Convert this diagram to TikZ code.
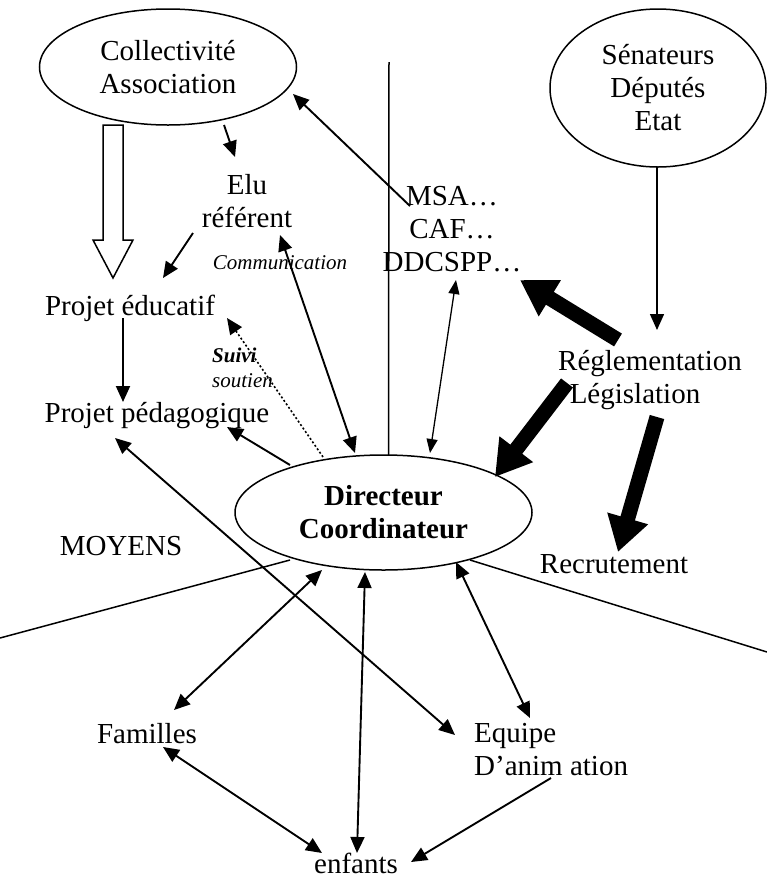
\documentclass[tikz,border=0pt]{standalone}
\usepackage{fontspec}
\setmainfont{Liberation Serif}
\usetikzlibrary{arrows.meta,calc,shapes.geometric}
\begin{document}
\begin{tikzpicture}[x=1pt,y=-1pt,
  txt/.style={inner sep=0pt, font=\fontsize{29}{33}\selectfont},
  ell/.style={draw, ellipse, line width=1.5pt, inner sep=0pt, align=center, font=\fontsize{29}{33}\selectfont},
  smalltxt/.style={inner sep=0pt, font=\fontsize{21}{25}\selectfont\itshape},
  tipA/.tip={Triangle[length=16pt,width=14pt]},
  tipB/.tip={Triangle[length=14pt,width=11pt]},
  conn/.style={line width=1.9pt, -tipA},
  biconn/.style={line width=1.9pt, tipA-tipA},
  thinbi/.style={line width=1.3pt, tipB-tipB},
  bigarrow/.style={line width=15pt, -{Triangle[length=35pt,width=40pt]}},
  sepline/.style={line width=1.5pt},
  dotconn/.style={line width=1.6pt, dash pattern=on 2pt off 2.2pt, -tipA},
]
\useasboundingbox (0,0) rectangle (767,879);

% ellipses
\node[ell, minimum width=257pt, minimum height=116pt] (coll) at (168,67) {Collectivité\\Association};
\node[ell, minimum width=216pt, minimum height=158pt] (sen) at (658,88) {Sénateurs\\Députés\\Etat};
\node[ell, minimum width=297pt, minimum height=115pt, font=\fontsize{29}{33}\selectfont\bfseries] (dir) at (383.5,512.5) {Directeur\\Coordinateur};

% text nodes
\node[txt, align=center] (elu) at (247,201.5) {Elu\\référent};
\node[txt, align=center] (msa) at (452,229.5) {MSA…\\CAF…\\DDCSPP…};
\node[txt, align=center] (regl) at (650,380.5) {Réglementation\\Législation\hspace*{30pt}};
\node[txt, anchor=base] (recr) at (614,573) {Recrutement};
\node[txt, anchor=base] (projedu) at (130,315) {Projet éducatif};
\node[txt, anchor=base] (projped) at (157,422) {Projet pédagogique};
\node[txt, anchor=base] (moyens) at (121,555) {MOYENS};
\node[txt, anchor=base] (fam) at (147,743) {Familles};
\node[txt, anchor=base] (enf) at (356,873) {enfants};
\node[txt, align=left, anchor=west] (equipe) at (474,749.5) {Equipe\\D’anim ation};
\node[smalltxt, anchor=base] (comm) at (280,269) {Communication};
\node[smalltxt, align=left, anchor=north west] (suivi) at (212,347.5) {\textbf{Suivi}\\soutien};

% free ends
\coordinate (vtop) at (389,62);
\coordinate (lend) at (0,638);
\coordinate (rend) at (767,652);

% separator lines
\draw[sepline] (vtop) -- ($(dir)+(5,-57.5)$);
\draw[sepline] ($(dir)+(-93.5,47.5)$) -- (lend);
\draw[sepline] ($(dir)+(86.5,47.5)$) -- (rend);

% hollow arrow Collectivite -> Projet educatif
\draw[line width=1.5pt, fill=white] (103,125) -- (103,240) -- (93,240) -- (113,278) -- (133,240) -- (123,240) -- (123,125) -- cycle;

% connectors
\draw[conn] ($(msa)+(-42,-23.5)$) -- ($(coll)+(125,27)$);
\draw[conn] ($(coll)+(56,58)$) -- ($(elu)+(-12,-44.5)$);
\draw[conn] ($(elu)+(-54,31.5)$) -- ($(projedu.base)+(33,-37)$);
\draw[conn] ($(projedu.base)+(-7,3)$) -- ($(projped.base)+(-34,-20)$);
\draw[conn] ($(dir)+(-93.5,-47.5)$) -- ($(projped.base)+(70,5)$);
\draw[dotconn] ($(dir)+(-60.5,-55.5)$) -- ($(projedu.base)+(97,3)$);
\draw[biconn] ($(dir)+(-28.5,-59.5)$) -- ($(elu)+(33,33.5)$);
\draw[thinbi] ($(dir)+(46.5,-59.5)$) -- ($(msa)+(4,50.5)$);
\draw[conn, line width=1.5pt] ($(sen)+(-1,79)$) -- ($(regl)+(7,-50.5)$);

\draw[bigarrow] ($(regl)+(-32,-40.5)$) -- ($(msa)+(68,50.5)$);
\draw[bigarrow] ($(regl)+(-83,2.5)$) -- ($(dir)+(111.5,-35.5)$);
\draw[bigarrow] ($(regl)+(7,36.5)$) -- ($(recr.base)+(4,-21)$);

\draw[biconn] ($(dir)+(-61.5,57.5)$) -- ($(fam.base)+(27,-33)$);
\draw[biconn] ($(fam.base)+(16,4)$) -- ($(enf.base)+(-34,-20)$);
\draw[biconn] ($(dir)+(-18.5,59.5)$) -- ($(enf.base)+(1,-20)$);
\draw[biconn] ($(dir)+(72.5,49.5)$) -- ($(equipe.west)+(56,-31.5)$);
\draw[biconn] ($(projped.base)+(-42,16)$) -- ($(equipe.west)+(-19,-14.5)$);
\draw[conn] ($(equipe.west)+(77,28.5)$) -- ($(enf.base)+(55,-11)$);
\end{tikzpicture}
\end{document}
